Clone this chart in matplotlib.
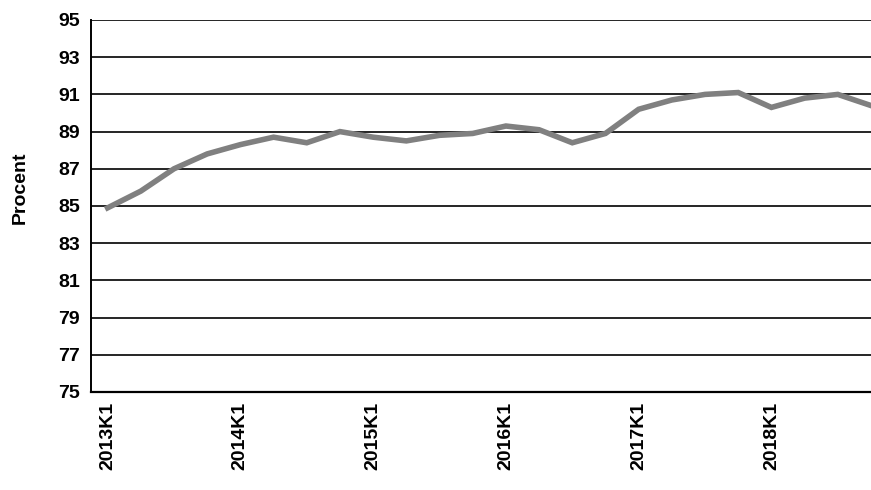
import matplotlib
matplotlib.use("Agg")
import matplotlib.pyplot as plt

plt.rcParams['font.family'] = ['Liberation Sans', 'DejaVu Sans']

quarters = [f"{y}K{q}" for y in range(2013, 2019) for q in range(1, 5)]
values = [84.9, 85.8, 87.0, 87.8, 88.3, 88.7, 88.4, 89.0,
          88.7, 88.5, 88.8, 88.9, 89.3, 89.1, 88.4, 88.9,
          90.2, 90.7, 91.0, 91.1, 90.3, 90.8, 91.0, 90.4]
yticks = list(range(75, 96, 2))
xtick_labels = ["2013K1", "2014K1", "2015K1", "2016K1", "2017K1", "2018K1"]

fig = plt.figure(figsize=(8.71, 4.90), dpi=100)
ax = fig.add_axes([91 / 871, 98 / 490, (871 - 91) / 871, 372 / 490])

x = list(range(len(quarters)))
ax.plot(x, values, color="#808080", linewidth=4.0, solid_joinstyle="miter",
        zorder=3)

ax.set_ylim(75, 95)
ax.set_xlim(-0.5, 23.0)
ax.set_yticks(yticks)
ax.set_yticklabels([str(v) for v in yticks], fontsize=14, fontweight="bold")
for v in yticks:
    ax.axhline(v, color="black", linewidth=1.2, zorder=1)

ax.set_xticks([quarters.index(lbl) for lbl in xtick_labels])
ax.set_xticklabels(xtick_labels, rotation=90, fontsize=14, fontweight="bold")
ax.tick_params(axis="both", length=0)
ax.tick_params(axis="y", pad=8)
ax.tick_params(axis="x", pad=7)

for side in ("top", "right"):
    ax.spines[side].set_visible(False)
ax.spines["left"].set_linewidth(1.4)
ax.spines["bottom"].set_linewidth(1.6)

ax.set_ylabel("Procent", fontsize=14, fontweight="bold")
ax.yaxis.set_label_coords(-0.08, 0.55)

fig.savefig("out.png", dpi=100)
